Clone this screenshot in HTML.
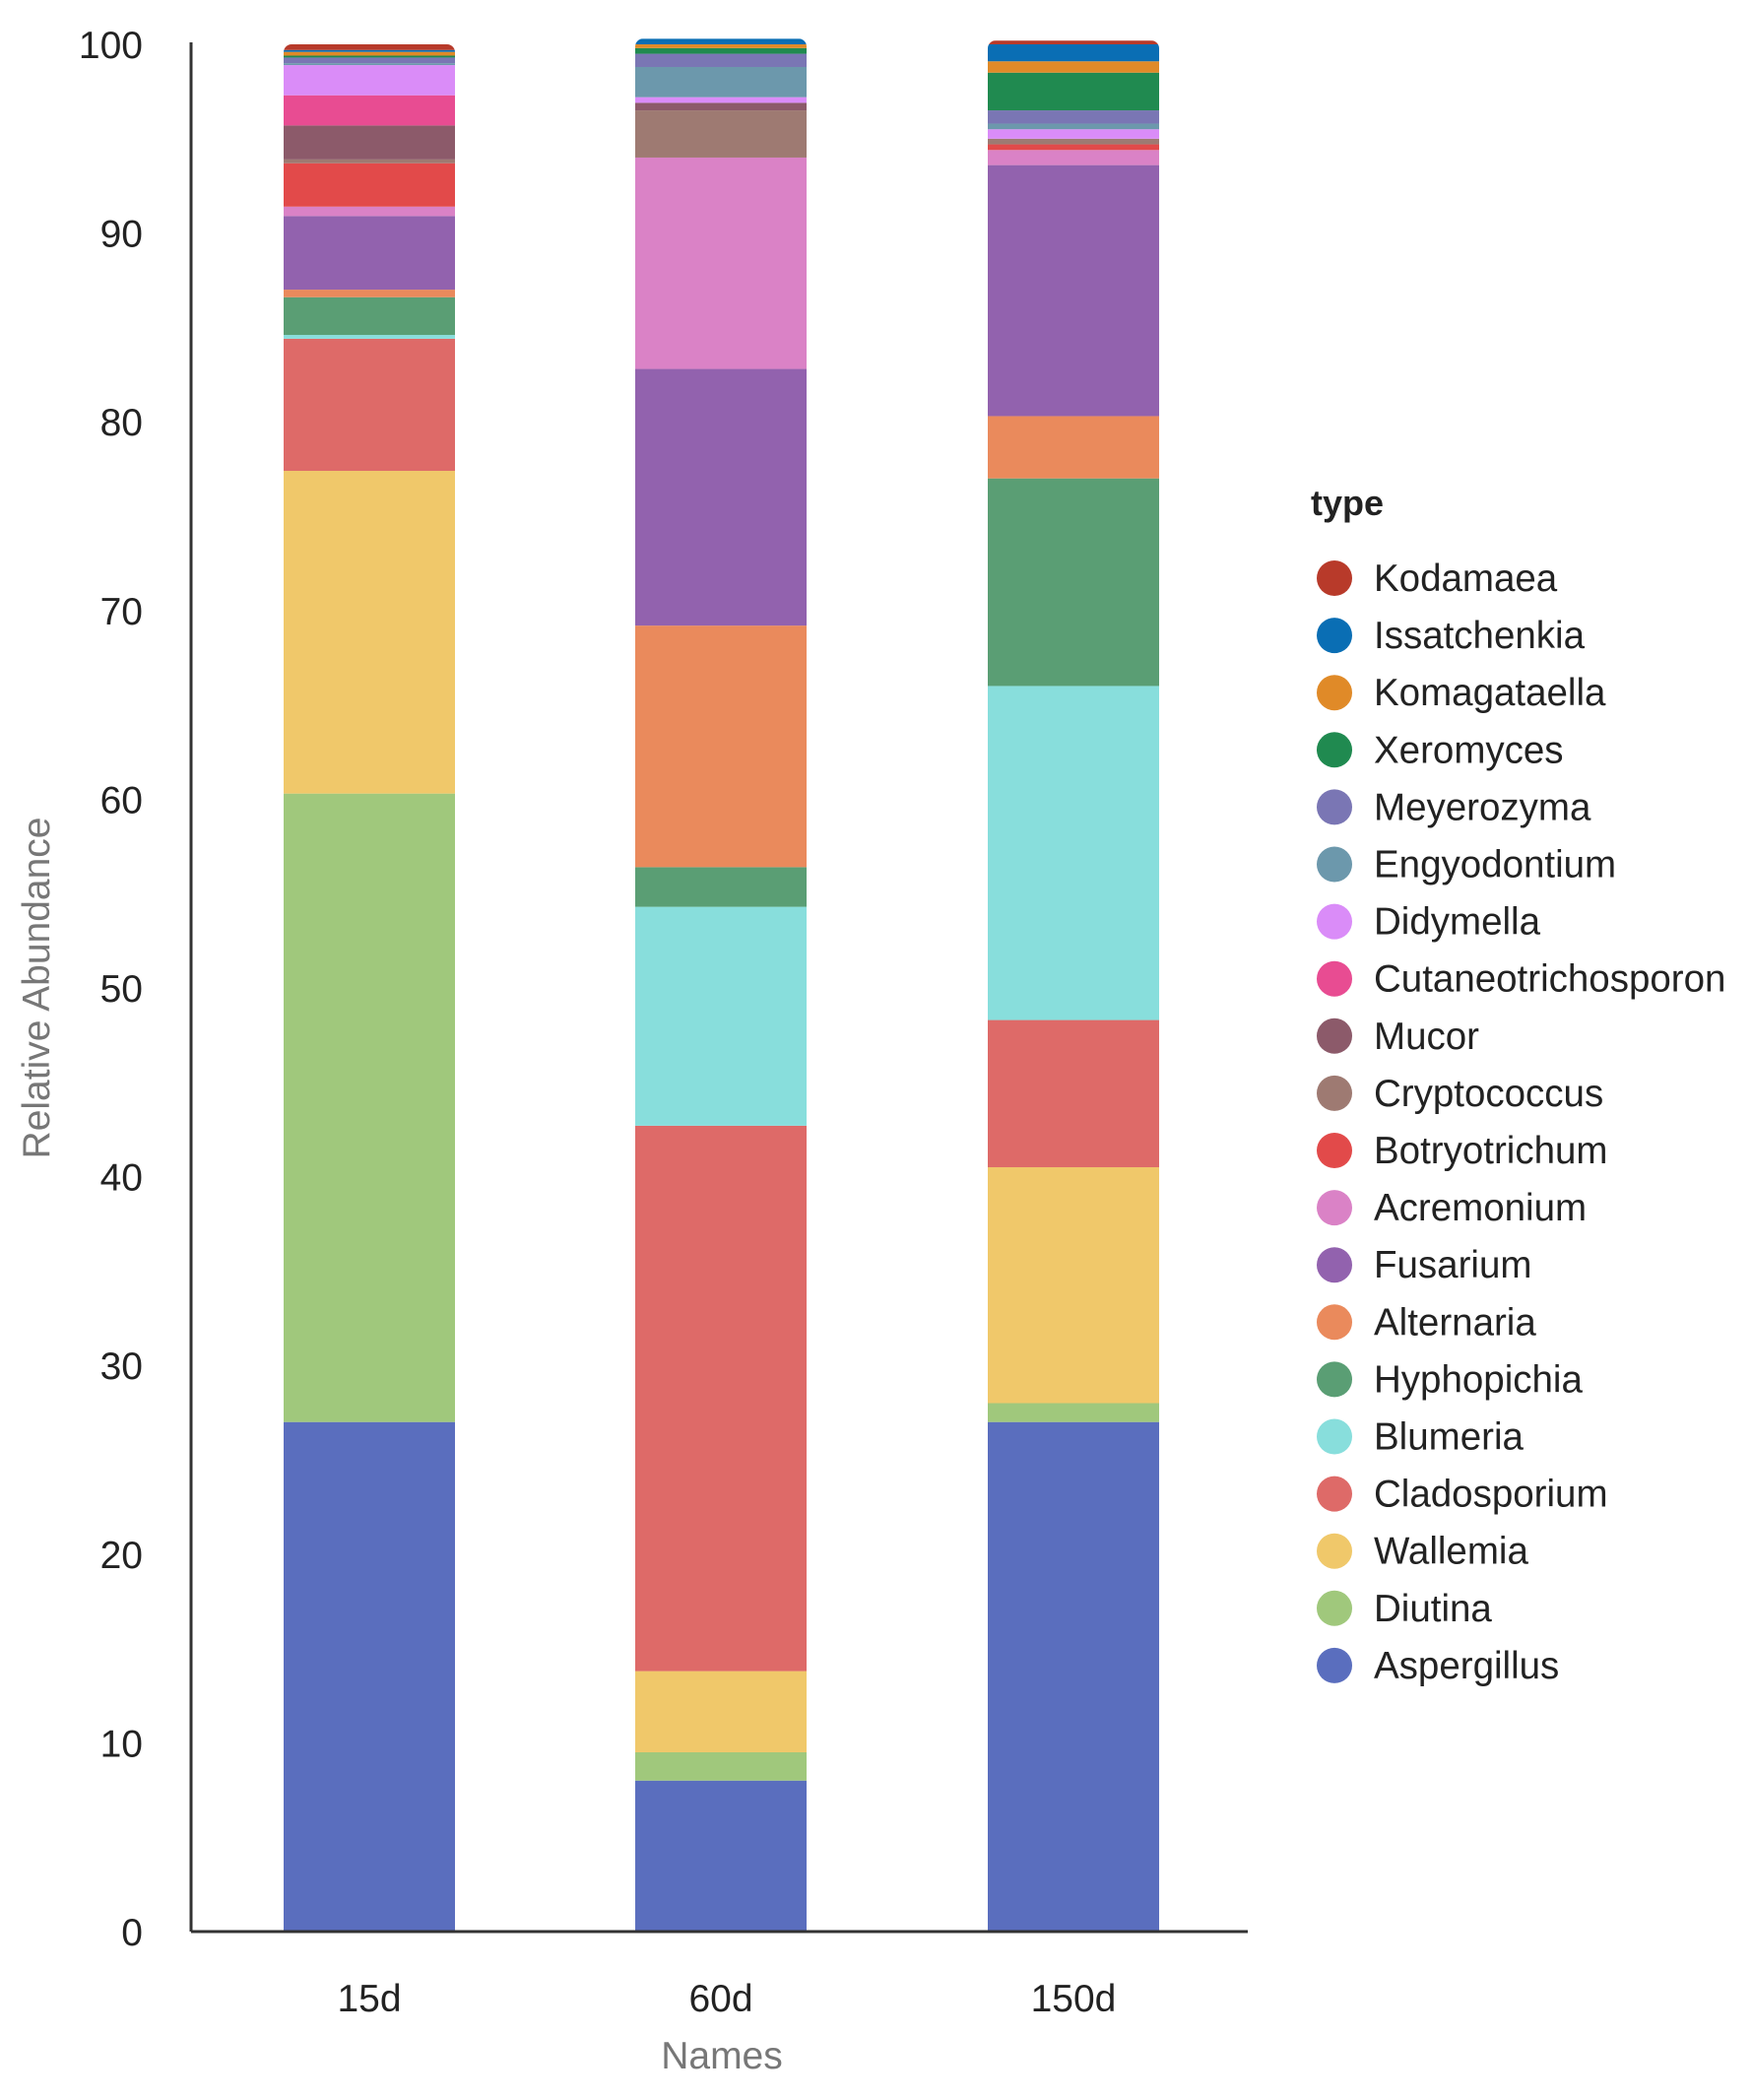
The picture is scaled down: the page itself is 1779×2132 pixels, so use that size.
<!DOCTYPE html>
<html><head><meta charset="utf-8"><style>
html,body{margin:0;padding:0;background:#fff;}
svg{display:block;font-family:"Liberation Sans",Arial,sans-serif;}
</style></head><body>
<svg id="chart" width="1779" height="2132" viewBox="0 0 1779 2132" xmlns="http://www.w3.org/2000/svg">
<defs id="defs"></defs>
<g id="bars"></g>
<g id="axes"></g>
<g id="legend"></g>
</svg>
<script>
const categories = ["15d","60d","150d"];
const types = ["Kodamaea","Issatchenkia","Komagataella","Xeromyces","Meyerozyma","Engyodontium","Didymella","Cutaneotrichosporon","Mucor","Cryptococcus","Botryotrichum","Acremonium","Fusarium","Alternaria","Hyphopichia","Blumeria","Cladosporium","Wallemia","Diutina","Aspergillus"];
const colors = ["#b83a2a","#0a6eb4","#e08a28","#208a50","#7a76b4","#6c98ac","#da8cf8","#e84c92","#8c5a6a","#9e7a72","#e24a4a","#da82c6","#9262ae","#ea8a5c","#5a9e74","#88dedc","#de6a68","#f0c86a","#a0c87c","#5a6ebe"];
// values in same order as types (top to bottom of legend)
const values15 = [0.3,0.1,0.2,0.1,0.3,0.1,1.6,1.6,1.8,0.2,2.3,0.5,3.9,0.4,2.0,0.2,7.0,17.1,33.3,27.0];
const values60 = [0,0.3,0.2,0.3,0.7,1.6,0.3,0,0.4,2.5,0,11.2,13.6,12.8,2.1,11.6,28.9,4.3,1.5,8.0];
const values150 = [0.2,0.9,0.6,2.0,0.7,0.3,0.5,0,0,0.3,0.3,0.8,13.3,3.3,11.0,17.7,7.8,12.5,1.0,27.0];
const series = [values15, values60, values150];
const yTicks = [0,10,20,30,40,50,60,70,80,90,100];

const NS="http://www.w3.org/2000/svg";
const X0=194, X1=1267, Y0=1961, Ytop=45;
const barW=174;
const centers=[375,732,1090];
function y(v){return Y0-(v/100)*(Y0-Ytop);}
function mk(tag,attrs,parent){const e=document.createElementNS(NS,tag);for(const k in attrs)e.setAttribute(k,attrs[k]);parent.appendChild(e);return e;}

const defs=document.getElementById('defs');
const bars=document.getElementById('bars');
categories.forEach((c,ci)=>{
  const vals=series[ci];
  const total=vals.reduce((a,b)=>a+b,0);
  const cp=mk('clipPath',{id:'clip'+ci},defs);
  mk('rect',{x:centers[ci]-barW/2,y:y(total),width:barW,height:Y0-y(total)+20,rx:8},cp);
  const g=mk('g',{'clip-path':'url(#clip'+ci+')'},bars);
  
  
  let cum=0;
  for(let i=types.length-1;i>=0;i--){
    const v=vals[i]; if(v<=0)continue;
    const r=mk('rect',{x:centers[ci]-barW/2,y:y(cum+v),width:barW,height:y(cum)-y(cum+v),fill:colors[i]},g);
    
    
    cum+=v;
  }
});

const axes=document.getElementById('axes');
const ya=mk('line',{x1:X0,y1:Ytop-2,x2:X0,y2:Y0,stroke:'#333','stroke-width':3},axes);


const xa=mk('line',{x1:X0,y1:Y0,x2:X1,y2:Y0,stroke:'#333','stroke-width':3},axes);


yTicks.forEach(t=>{
  const tx=mk('text',{x:145,y:y(t)+14,'text-anchor':'end','font-size':39,fill:'#222'},axes);
  tx.textContent=t;
  
  
});
categories.forEach((c,ci)=>{
  const tx=mk('text',{x:centers[ci],y:2042,'text-anchor':'middle','font-size':39,fill:'#222'},axes);
  tx.textContent=c;
  
  
});
const xt=mk('text',{x:733,y:2100,'text-anchor':'middle','font-size':39,fill:'#777'},axes);
xt.textContent='Names';


const yt=mk('text',{x:0,y:0,'text-anchor':'middle','font-size':39,fill:'#777',transform:'translate(50,1003) rotate(-90)'},axes);
yt.textContent='Relative Abundance';



const legend=document.getElementById('legend');
const lt=mk('text',{x:1331,y:523,'font-size':36,'font-weight':'bold',fill:'#222'},legend);
lt.textContent='type';


types.forEach((t,i)=>{
  const cy=587+i*58.1;
  const g=mk('g',{},legend);
  
  
  mk('circle',{cx:1355,cy:cy,r:18,fill:colors[i]},g);
  const tx=mk('text',{x:1395,y:cy+13,'font-size':38.5,fill:'#222'},g);
  tx.textContent=t;
});
</script>
</body></html>
